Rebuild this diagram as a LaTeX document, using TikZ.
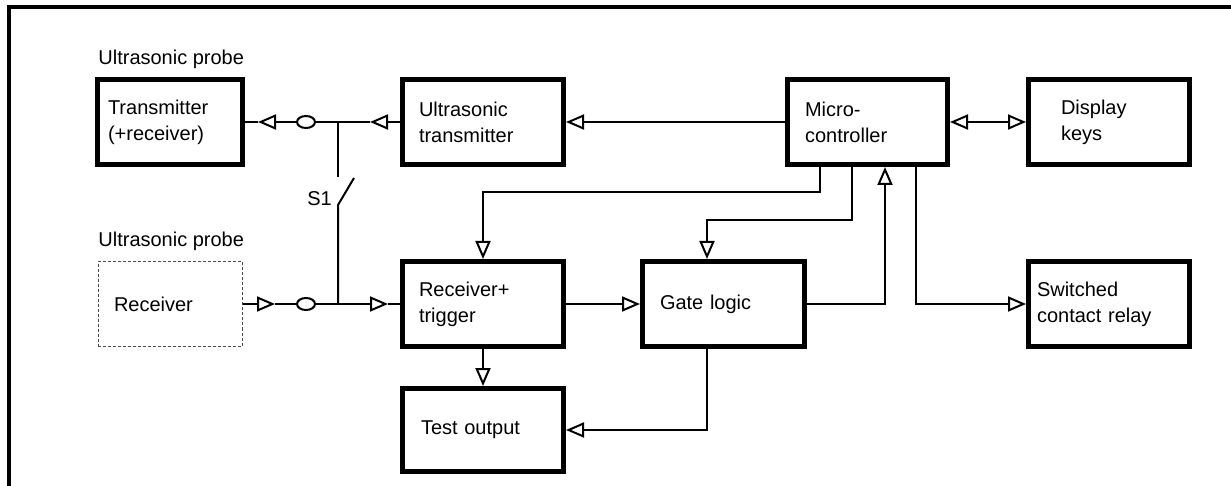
\documentclass[tikz,border=0pt]{standalone}
\usepackage{fontspec}
\setmainfont{Liberation Sans}
\usetikzlibrary{arrows.meta,shapes.geometric}

\tikzset{
  txt/.style={font=\fontsize{10}{13}\selectfont},
  blk/.style={txt, draw, line width=2.5pt, minimum height=42.5pt, align=left, inner ysep=0pt},
  probebox/.style={txt, draw=black!70, line width=0.5pt, dash pattern=on 1.5pt off 1pt, minimum height=42.5pt, align=left, inner ysep=0pt},
  lbl/.style={txt, inner sep=0pt},
  wire/.style={line width=1pt},
  tip/.tip={Triangle[open, length=9pt, width=7.5pt]},
  arr/.style={wire, -tip},
  arrs/.style={wire, tip-tip},
  sock/.style={draw, ellipse, line width=1pt, minimum width=9pt, minimum height=6pt, inner sep=0pt}
}

\begin{document}
\begin{tikzpicture}[x=0.5pt, y=-0.5pt]
\useasboundingbox (0,0) rectangle (1231,486);
\draw[line width=2pt] (8.5,486) -- (8.5,7.5) -- (1231,7.5);

% blocks
\node[blk, minimum width=72.5pt, text width=62pt, inner xsep=5.25pt] (tx) at (170,122) {Transmitter\\(+receiver)};
\node[blk, minimum width=80.5pt, text width=64pt, inner xsep=8.25pt] (utx) at (483,122) {Ultrasonic\\transmitter};
\node[blk, minimum width=80pt, text width=62.5pt, inner xsep=8.75pt] (mc) at (867.5,122) {Micro-\\controller};
\node[blk, minimum width=80.5pt, text width=48pt, inner xsep=16.25pt] (disp) at (1109,122) {Display\\keys};
\node[probebox, minimum width=72pt, text width=56pt, inner xsep=8pt] (rx) at (170,304) {Receiver};
\node[blk, minimum width=80.5pt, text width=64pt, inner xsep=8.25pt] (rxt) at (483,304) {Receiver+\\trigger};
\node[blk, minimum width=81pt, text width=63.5pt, inner xsep=8.75pt] (gate) at (723.5,304) {Gate logic};
\node[blk, minimum width=80.5pt, text width=72pt, inner xsep=4.25pt] (relay) at (1109,304) {Switched\\contact relay};
\node[blk, minimum width=80.5pt, minimum height=41.5pt, text width=62pt, inner xsep=9.25pt] (test) at (483,430) {Test output};

\node[lbl, anchor=base west] (probe1) at (98,65) {Ultrasonic probe};
\node[lbl, anchor=base west] (probe2) at (98,247) {Ultrasonic probe};
\node[lbl, anchor=base west] (s1) at (307,206) {S1};

% sockets and switch
\node[sock] (o1) at (306,122) {};
\node[sock] (o2) at (306,304) {};
\coordinate (j1) at (338,122);
\coordinate (j2) at (338,304);
\coordinate (sw1) at (338,177);
\coordinate (sw2) at (338,205);
\coordinate (sw3) at (354,178);
\coordinate (a1) at (370,122);
\coordinate (a2) at (258,122);
\coordinate (a3) at (275,304);
\coordinate (a4) at (388,304);

\draw[arr] (utx.west) -- (a1);
\draw[wire] (a1) -- (j1) -- (o1.east);
\draw[arr] (o1.west) -- (a2);
\draw[wire] (a2) -- (tx.east);
\draw[arr] (rx.east) -- (a3);
\draw[wire] (a3) -- (o2.west);
\draw[arr] (o2.east) -- (j2) -- (a4);
\draw[wire] (a4) -- (rxt.west);
\draw[wire] (j1) -- (sw1);
\draw[wire] (j2) -- (sw2) -- (sw3);

% signal paths
\coordinate (c1) at (820,192);
\coordinate (c2) at (852,220);
\coordinate (c3) at (707,220);
\coordinate (c4) at (885,304);
\coordinate (c5) at (916,304);
\coordinate (c6) at (707,430);

\draw[arr] (mc.west) -- (utx.east);
\draw[arrs] (mc.east) -- (disp.west);
\draw[arr] (mc.south -| c1) -- (c1) -| (rxt.north);
\draw[arr] (mc.south -| c2) -- (c2) -- (c3) -- (gate.north -| c3);
\draw[arr] (gate.east) -| (mc.south -| c4);
\draw[arr] (mc.south -| c5) |- (relay.west);
\draw[arr] (rxt.east) -- (gate.west);
\draw[arr] (rxt.south) -- (test.north);
\draw[arr] (gate.south -| c6) |- (test.east);
\end{tikzpicture}
\end{document}
